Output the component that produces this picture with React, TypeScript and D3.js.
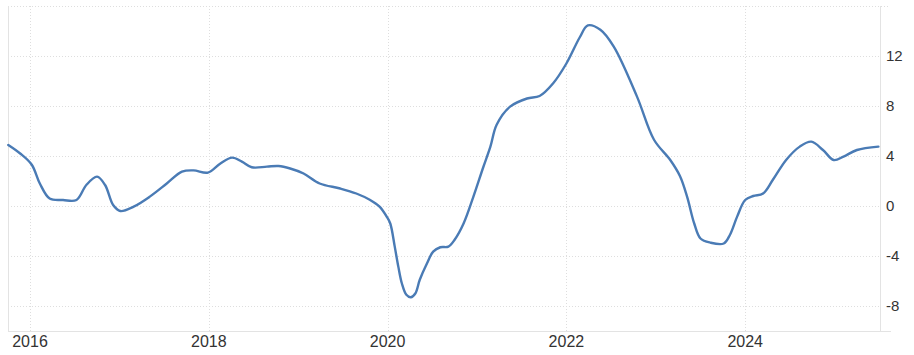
import React from "react";
import * as d3 from "d3";

// time position expressed in decimal years
const years = [
  2015.757, 2015.89, 2016.02, 2016.11, 2016.22, 2016.37, 2016.52, 2016.63, 2016.75, 2016.84,
  2016.93, 2017.01, 2017.16, 2017.34, 2017.53, 2017.70, 2017.83, 2017.99, 2018.13, 2018.26,
  2018.37, 2018.48, 2018.65, 2018.78, 2018.91, 2019.06, 2019.24, 2019.47, 2019.65, 2019.80,
  2019.91, 2019.99, 2020.03, 2020.08, 2020.12, 2020.16, 2020.21, 2020.26, 2020.31, 2020.36,
  2020.44, 2020.51, 2020.59, 2020.68, 2020.75, 2020.85, 2020.96, 2021.07, 2021.15, 2021.22,
  2021.37, 2021.56, 2021.70, 2021.85, 2022.00, 2022.15, 2022.24, 2022.38, 2022.53, 2022.79,
  2022.98, 2023.16, 2023.27, 2023.35, 2023.43, 2023.50, 2023.61, 2023.76, 2023.83, 2023.91,
  2024.00, 2024.09, 2024.20, 2024.31, 2024.46, 2024.61, 2024.74, 2024.87, 2024.99, 2025.10,
  2025.25, 2025.49,
];
const values = [
  4.88, 4.2, 3.3, 1.8, 0.6, 0.48, 0.48, 1.68, 2.35, 1.68,
  0.08, -0.4, -0.05, 0.75, 1.8, 2.75, 2.85, 2.67, 3.4, 3.87,
  3.55, 3.1, 3.15, 3.2, 3.0, 2.6, 1.8, 1.4, 1.0, 0.5,
  -0.05, -0.85, -1.4, -3.25, -4.85, -6.2, -7.1, -7.3, -7.0, -5.9,
  -4.6, -3.65, -3.3, -3.25, -2.7, -1.4, 0.75, 3.1, 4.75, 6.5,
  7.95, 8.6, 8.8, 9.8, 11.4, 13.5, 14.45, 14.1, 12.75, 8.75,
  5.3, 3.7, 2.4, 0.75, -1.4, -2.6, -2.93, -3.0, -2.3, -0.85,
  0.48, 0.8, 1.0, 2.1, 3.7, 4.75, 5.15, 4.48, 3.68, 3.95,
  4.48, 4.75,
];
const yTicks = [-8, -4, 0, 4, 8, 12];
const xTickYears = [2016, 2018, 2020, 2022, 2024];

export default function App() {
  const W = 914, H = 355;
  const left = 8, right = 880, top = 6, bottom = 331;
  const data = years.map((t, i) => ({ t, value: values[i] }));
  const x = d3.scaleLinear().domain([2015.754, 2025.508]).range([left, right]);
  const y = d3.scaleLinear().domain([-10, 16]).range([bottom, top]);
  const line = d3.line<{ t: number; value: number }>()
    .x(d => x(d.t))
    .y(d => y(d.value))
    .curve(d3.curveCatmullRom.alpha(0.5));
  const font = "'Liberation Sans', Arial, sans-serif";
  return (
    <svg width={W} height={H} style={{ position: "absolute", left: 0, top: 0, background: "#fff" }}>
      {[...yTicks, 16].map(t => (
        <line key={"h" + t} x1={left} x2={t === 16 ? 890 : right} y1={Math.round(y(t)) + 0.5} y2={Math.round(y(t)) + 0.5}
          stroke="#dedede" strokeWidth={1} strokeDasharray="1,2" />
      ))}
      {xTickYears.map(yr => {
        const xx = Math.round(x(yr)) + 0.5;
        return <line key={"v" + yr} x1={xx} x2={xx} y1={top} y2={bottom} stroke="#dedede" strokeWidth={1} strokeDasharray="1,2" />;
      })}
      <line x1={left + 0.5} x2={left + 0.5} y1={top} y2={bottom} stroke="#e3e3e3" />
      <line x1={right + 0.5} x2={right + 0.5} y1={top} y2={bottom + 1} stroke="#e3e3e3" />
      <line x1={left} x2={891} y1={bottom + 0.5} y2={bottom + 0.5} stroke="#e3e3e3" />
      <path d={line(data) || ""} fill="none" stroke="#4a7bb5" strokeWidth={2.4} strokeLinejoin="round" strokeLinecap="round" />
      {yTicks.map(t => (
        <text key={"yl" + t} x={886} y={y(t)} dy="0.36em" fontFamily={font} fontSize={15} fill="#333">{t}</text>
      ))}
      {xTickYears.map(yr => (
        <text key={"xl" + yr} x={x(yr)} y={347} textAnchor="middle" fontFamily={font} fontSize={16} fill="#333">{yr}</text>
      ))}
    </svg>
  );
}
